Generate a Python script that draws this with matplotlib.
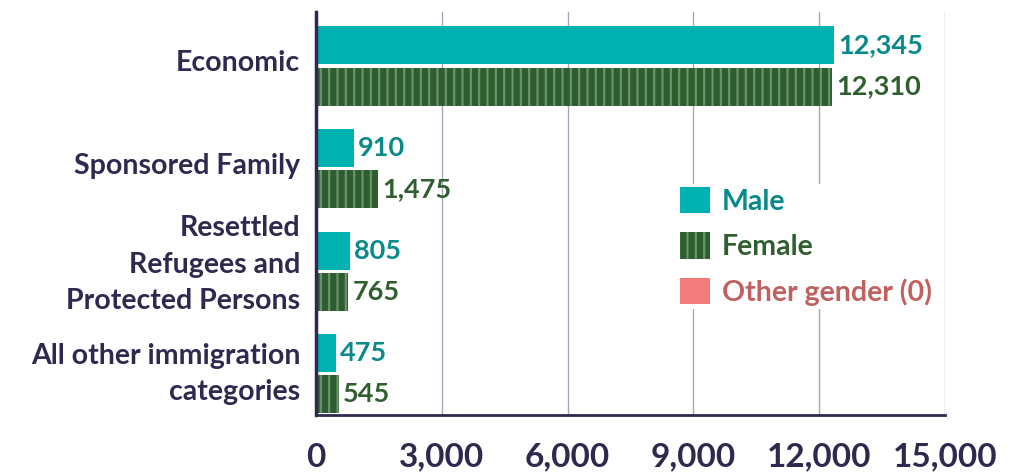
import matplotlib.pyplot as plt
from matplotlib.patches import Patch
from matplotlib.transforms import blended_transform_factory
import numpy as np

plt.rcParams['font.family'] = ['Lato', 'DejaVu Sans']
plt.rcParams['hatch.linewidth'] = 1.6

# data
categories = ["Economic", "Sponsored Family", "Resettled\nRefugees and\nProtected Persons",
              "All other immigration\ncategories"]
male = [12345, 910, 805, 475]
female = [12310, 1475, 765, 545]
other = [0, 0, 0, 0]
xticks = [0, 3000, 6000, 9000, 12000, 15000]

dark = "#2e2a4f"
male_c, male_txt = "#00b2b2", "#08898a"
fem_c, fem_txt, fem_hatch = "#2d5e2d", "#2f5f2f", "#6e906e"
oth_c, oth_txt = "#f47b7b", "#c0605f"

fig = plt.figure(figsize=(10.26, 4.73), dpi=100)
ax = fig.add_axes([316 / 1026, 1 - 415 / 473, (945 - 316) / 1026, (415 - 12) / 473])

y = np.arange(len(categories))
h = 0.37
ax.barh(y - 0.2, male, height=h, color=male_c, zorder=3)
ax.barh(y + 0.2, female, height=h, color=fem_c, edgecolor=fem_hatch, hatch='||', linewidth=0, zorder=3)

for yi, m, f in zip(y, male, female):
    ax.text(m + 100, yi - 0.2, f"{m:,}", va='center', ha='left', color=male_txt,
            fontsize=19.5, fontweight='bold')
    ax.text(f + 100, yi + 0.2, f"{f:,}", va='center', ha='left', color=fem_txt,
            fontsize=19.5, fontweight='bold')

# category labels, nudged a little above the group centre like the original
trans = blended_transform_factory(ax.transAxes, ax.transData)
nudge = {0: 0.03, 1: 0.0, 2: 0.065}
for yi, lab in zip(y, categories):
    ax.text(-0.025, yi - nudge[lab.count("\n")], lab, transform=trans, ha='right', va='center',
            fontsize=20.5, fontweight='bold', color=dark, linespacing=1.5)

ax.set_xlim(0, 15000)
ax.set_ylim(3.4, -0.526)
ax.set_yticks([])
ax.set_xticks(xticks)
ax.set_xticklabels([f"{v:,}" for v in xticks], fontsize=24, fontweight='bold', color=dark)
ax.tick_params(axis='both', length=0)
ax.tick_params(axis='x', pad=20)
ax.grid(axis='x', color='#a9a5b8', linewidth=1, zorder=0)
for s in ['top', 'right']:
    ax.spines[s].set_visible(False)
ax.spines['left'].set_color(dark)
ax.spines['left'].set_linewidth(2.5)
ax.spines['bottom'].set_color(dark)
ax.spines['bottom'].set_linewidth(2)
ax.spines['left'].set_zorder(4)

handles = [Patch(facecolor=male_c, label="Male"),
           Patch(facecolor=fem_c, edgecolor=fem_hatch, hatch='||', linewidth=0, label="Female"),
           Patch(facecolor=oth_c, label="Other gender (0)")]
leg = fig.legend(handles=handles, loc='upper left', bbox_to_anchor=(677 / 1026, 1 - 184 / 473),
                 frameon=True, facecolor='white', edgecolor='none', framealpha=1,
                 prop={'size': 20.5, 'weight': 'bold'}, handlelength=1.05, handleheight=1.05,
                 handletextpad=0.42, labelspacing=0.62, borderpad=0.1, borderaxespad=0)
for t, c in zip(leg.get_texts(), [male_txt, fem_txt, oth_txt]):
    t.set_color(c)

fig.savefig("out.png", dpi=100)
